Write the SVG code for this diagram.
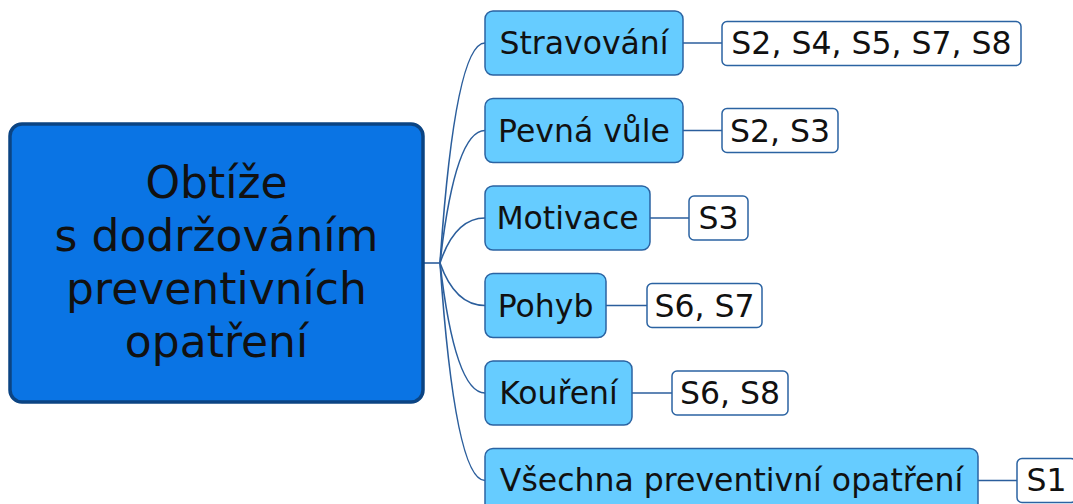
<svg xmlns="http://www.w3.org/2000/svg" width="1073" height="504" viewBox="0 0 1073 504">
<style>
text{font-family:"DejaVu Sans",Verdana,sans-serif;fill:#111;text-anchor:middle}
.main rect{fill:#0A74E4;stroke:#0B4483;stroke-width:3.5}
.main text{font-size:44px}
.br rect{fill:#66CCFF;stroke:#2B63A2;stroke-width:1.5}
.br text{font-size:31.5px}
.leaf rect{fill:#FFFFFF;stroke:#2B63A2;stroke-width:1.5}
.leaf text{font-size:31.5px}
#connectors path{fill:none;stroke:#2B5E9C;stroke-width:1.6}
</style>
<g id="connectors">
<path d="M424,263 H440"/>
<path d="M440,263 Q455,43 485,43"/>
<path d="M440,263 Q455,130.5 485,130.5"/>
<path d="M440,263 Q455,218 485,218"/>
<path d="M440,263 Q455,305.5 485,305.5"/>
<path d="M440,263 Q455,393 485,393"/>
<path d="M440,263 Q455,480.5 485,480.5"/>
<path d="M683,43 H722"/>
<path d="M683,130.5 H722"/>
<path d="M650,218 H689"/>
<path d="M606,305.5 H647"/>
<path d="M632,393 H672"/>
<path d="M978,480.5 H1017"/>
</g>
<g id="root" class="main">
<rect x="10" y="124" width="413" height="278" rx="12"/>
<text x="216.5" y="198">Obtíže</text>
<text x="216.5" y="251">s dodržováním</text>
<text x="216.5" y="304">preventivních</text>
<text x="216.5" y="357">opatření</text>
</g>
<g id="b1" class="br"><rect x="485" y="11" width="198" height="64" rx="8"/><text x="584" y="54">Stravování</text></g>
<g id="b2" class="br"><rect x="485" y="98.5" width="198" height="64" rx="8"/><text x="584" y="141.5">Pevná vůle</text></g>
<g id="b3" class="br"><rect x="485" y="186" width="165" height="64" rx="8"/><text x="567.5" y="229">Motivace</text></g>
<g id="b4" class="br"><rect x="485" y="273.5" width="121" height="64" rx="8"/><text x="545.5" y="316.5">Pohyb</text></g>
<g id="b5" class="br"><rect x="485" y="361" width="147" height="64" rx="8"/><text x="558.5" y="404">Kouření</text></g>
<g id="b6" class="br"><rect x="485" y="448.5" width="493" height="64" rx="8"/><text x="731.5" y="491">Všechna preventivní opatření</text></g>
<g id="l1" class="leaf"><rect x="722" y="21.5" width="299" height="44" rx="5"/><text x="871.5" y="54">S2, S4, S5, S7, S8</text></g>
<g id="l2" class="leaf"><rect x="722" y="108.5" width="116" height="44" rx="5"/><text x="780" y="141.5">S2, S3</text></g>
<g id="l3" class="leaf"><rect x="689" y="196" width="59" height="44" rx="5"/><text x="718.5" y="229">S3</text></g>
<g id="l4" class="leaf"><rect x="647" y="283.5" width="115" height="44" rx="5"/><text x="704.5" y="316.5">S6, S7</text></g>
<g id="l5" class="leaf"><rect x="672" y="371" width="116" height="44" rx="5"/><text x="730" y="404">S6, S8</text></g>
<g id="l6" class="leaf"><rect x="1017" y="458.5" width="59" height="44" rx="5"/><text x="1046.5" y="491">S1</text></g>
</svg>
